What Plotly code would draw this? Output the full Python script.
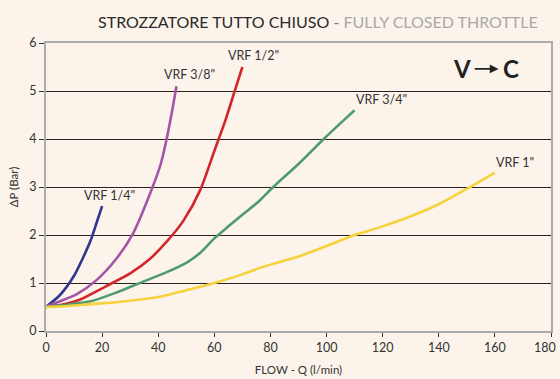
import plotly.graph_objects as go

# Pressure drop vs flow, fully closed throttle, V -> C direction
flow_14 = [0, 5, 10, 13, 16, 18, 20]
dp_14 = [0.5, 0.75, 1.15, 1.5, 1.9, 2.25, 2.6]

flow_38 = [0, 5, 11, 18, 25, 31, 38, 41, 43, 45, 46.5]
dp_38 = [0.5, 0.62, 0.77, 1.06, 1.5, 2.03, 3.0, 3.5, 4.0, 4.6, 5.1]

flow_12 = [0, 6, 12, 21, 30, 37, 43, 49, 55, 60, 64, 67, 70]
dp_12 = [0.5, 0.55, 0.65, 0.92, 1.2, 1.5, 1.86, 2.3, 2.94, 3.75, 4.4, 4.95, 5.5]

flow_34 = [0, 8, 16, 25, 33, 42, 50, 55, 60, 65, 70, 76, 81, 90, 99, 105, 110]
dp_34 = [0.5, 0.55, 0.62, 0.8, 0.99, 1.2, 1.42, 1.63, 1.93, 2.18, 2.42, 2.71, 3.0, 3.48, 4.0, 4.33, 4.6]

flow_1 = [0, 8, 16, 25, 33, 42, 50, 60, 70, 76, 90, 100, 110, 120, 130, 140, 150, 160]
dp_1 = [0.5, 0.52, 0.56, 0.6, 0.65, 0.73, 0.85, 1.0, 1.18, 1.31, 1.55, 1.77, 2.0, 2.18, 2.39, 2.64, 2.96, 3.3]

series = [
    ('VRF 1/4"', flow_14, dp_14, '#2e3790'),
    ('VRF 3/8"', flow_38, dp_38, '#a455a6'),
    ('VRF 1/2"', flow_12, dp_12, '#d2262b'),
    ('VRF 3/4"', flow_34, dp_34, '#4f9a6f'),
    ('VRF 1"', flow_1, dp_1, '#f6d23c'),
]

# label anchor positions (data coordinates)
label_pos = {
    'VRF 1/4"': (22.8, 2.83),
    'VRF 3/8"': (51.3, 5.35),
    'VRF 1/2"': (74.1, 5.73),
    'VRF 3/4"': (119.7, 4.83),
    'VRF 1"': (167.1, 3.52),
}

x_ticks = [0, 20, 40, 60, 80, 100, 120, 140, 160, 180]
y_ticks = [0, 1, 2, 3, 4, 5, 6]

bg = '#fcf4eb'
font_family = 'Lato, Noto Sans, DejaVu Sans, sans-serif'

fig = go.Figure()
for name, xs, ys, color in series:
    fig.add_trace(go.Scatter(
        x=xs, y=ys, mode='lines', name=name,
        line=dict(color=color, width=2.6, shape='spline', smoothing=0.7),
        showlegend=False, hoverinfo='skip',
    ))

annotations = []
for name, (lx, ly) in label_pos.items():
    annotations.append(dict(
        x=lx, y=ly, xref='x', yref='y', text=name, showarrow=False,
        font=dict(size=12.5, color='#333333', family=font_family),
        xanchor='center', yanchor='middle',
    ))

# last x tick label sits at the page edge, so it is drawn as an annotation
annotations.append(dict(
    x=x_ticks[-1], y=0, xref='x', yref='y', text=str(x_ticks[-1]), showarrow=False,
    font=dict(size=12.5, color='#333333', family=font_family),
    xanchor='center', yanchor='top', xshift=-6, yshift=-7,
))

# V -> C direction marker
annotations.append(dict(x=148.3, y=5.46, xref='x', yref='y', text='<b>V</b>',
                        showarrow=False, font=dict(size=24, color='#222222', family=font_family),
                        xanchor='center', yanchor='middle'))
annotations.append(dict(x=165.6, y=5.46, xref='x', yref='y', text='<b>C</b>',
                        showarrow=False, font=dict(size=24, color='#222222', family=font_family),
                        xanchor='center', yanchor='middle'))
annotations.append(dict(x=161.3, y=5.46, ax=152.3, ay=5.46, xref='x', yref='y',
                        axref='x', ayref='y', text='', showarrow=True,
                        arrowhead=2, arrowsize=1.1, arrowwidth=1.6, arrowcolor='#222222'))

# title
annotations.append(dict(
    x=0.978, y=1.076, xref='paper', yref='paper', xanchor='right', yanchor='middle',
    showarrow=False,
    text=("<span style='color:#2a2a2a'>STROZZATORE TUTTO CHIUSO</span>"
          "<span style='color:#777777'> - </span>"
          "<span style='color:#a8a8a8'>FULLY CLOSED THROTTLE</span>"),
    font=dict(size=16, family=font_family),
))

fig.update_layout(
    width=560, height=379,
    margin=dict(l=46, r=9, t=43, b=48, autoexpand=False),
    paper_bgcolor=bg, plot_bgcolor=bg,
    font=dict(family=font_family, color='#333333', size=12),
    annotations=annotations,
)

fig.update_xaxes(
    range=[0, 180], tickvals=x_ticks,
    ticktext=[str(v) for v in x_ticks[:-1]] + [''],
    showgrid=False, zeroline=False, automargin=False,
    showline=True, linecolor='#ababab', linewidth=2, mirror=True,
    ticks='outside', ticklen=4, tickcolor='#333333', tickwidth=1,
    tickfont=dict(size=12.5, color='#333333'),
    title=dict(text='FLOW - Q (l/min)', font=dict(size=11.5, color='#333333'), standoff=12),
)
fig.update_yaxes(
    range=[0, 6], tickvals=y_ticks, ticktext=[str(v) for v in y_ticks],
    showgrid=True, gridcolor='#2a2222', gridwidth=1, zeroline=False, automargin=False,
    showline=True, linecolor='#ababab', linewidth=2, mirror=True,
    ticks='outside', ticklen=5, tickcolor='#333333', tickwidth=1,
    tickfont=dict(size=12.5, color='#333333'),
    title=dict(text='ΔP (Bar)', font=dict(size=11.5, color='#333333'), standoff=8),
)

fig.write_html('out.html')
